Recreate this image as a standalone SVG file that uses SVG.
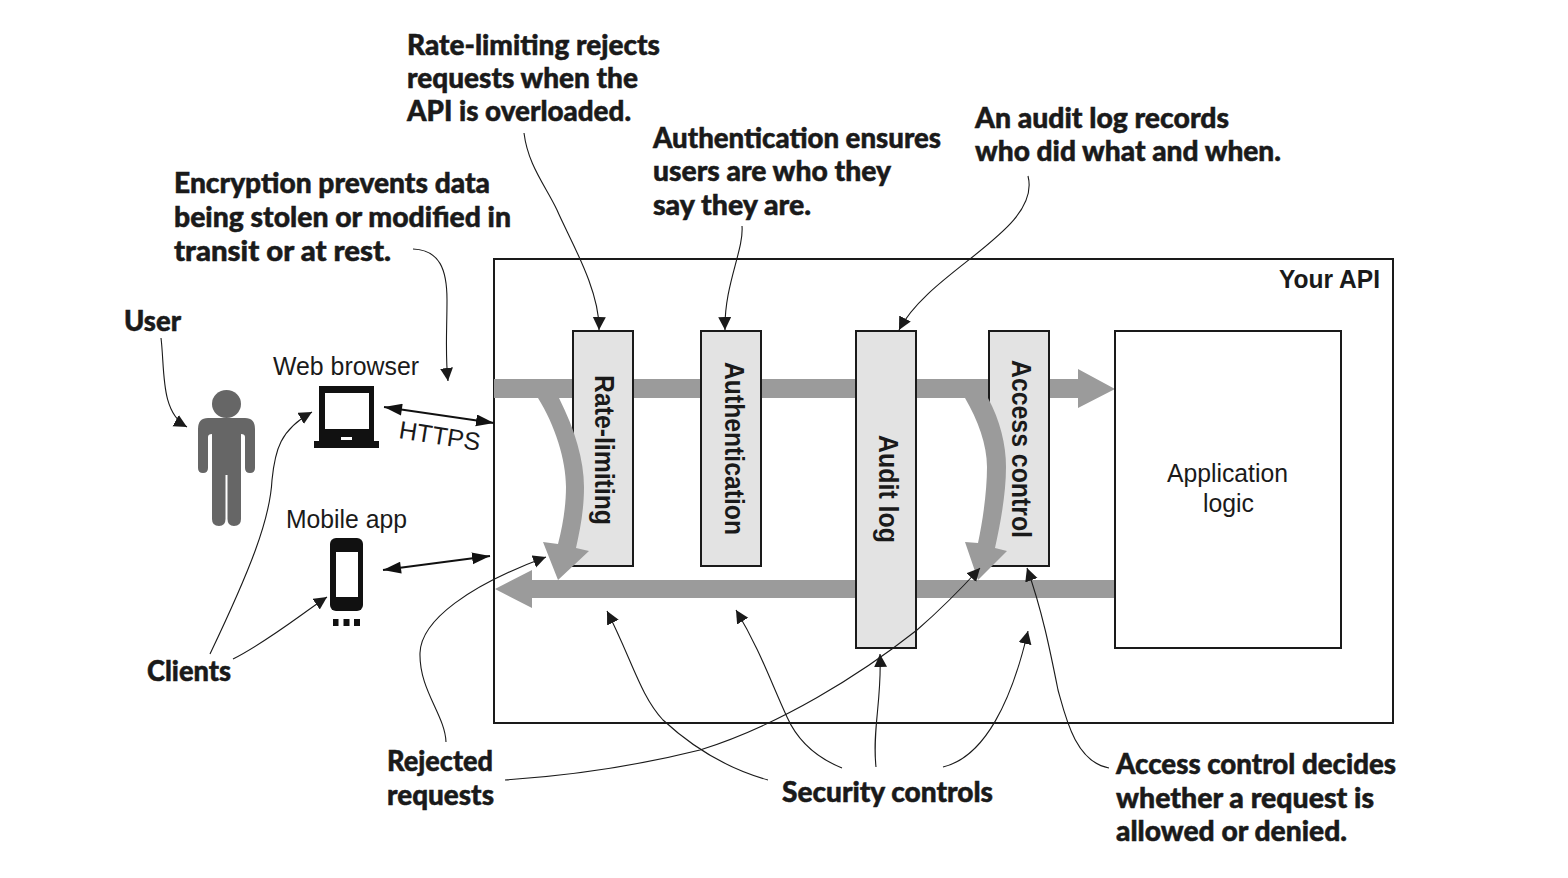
<svg xmlns="http://www.w3.org/2000/svg" width="1568" height="878" viewBox="0 0 1568 878">
<style>
.note{font-family:"Lato","Noto Sans","Liberation Sans",sans-serif;font-weight:900;font-size:27.500px;fill:#1a1a1a;stroke:#1a1a1a;stroke-width:.5}
.lab{font-family:"Liberation Sans",Arial,sans-serif;font-size:25px;fill:#1a1a1a}
.rot{font-family:"Liberation Sans",Arial,sans-serif;font-weight:700;font-size:27px;fill:#1a1a1a}
.api{font-family:"Liberation Sans",Arial,sans-serif;font-weight:700;font-size:25px;fill:#1a1a1a}
.box{fill:#e3e3e3;stroke:#1a1a1a;stroke-width:2}
.wbox{fill:#fff;stroke:#1a1a1a;stroke-width:2}
.band{fill:#9b9b9b}
.lead{fill:none;stroke:#1a1a1a;stroke-width:1.100;marker-end:url(#ah)}
.dbl{fill:none;stroke:#111;stroke-width:2;marker-end:url(#ah2);marker-start:url(#ah2s)}
</style>
<defs>
<marker id="ah" markerUnits="userSpaceOnUse" markerWidth="15" markerHeight="14" refX="13" refY="6.500" orient="auto"><path d="M0,0 L13,6.500 L0,13 Z" fill="#1a1a1a"/></marker>
<marker id="ah2" markerUnits="userSpaceOnUse" markerWidth="20" markerHeight="14" refX="18" refY="6" orient="auto"><path d="M0,0 L18,6 L0,12 Z" fill="#111"/></marker>
<marker id="ah2s" markerUnits="userSpaceOnUse" markerWidth="20" markerHeight="14" refX="0" refY="6" orient="auto"><path d="M18,0 L0,6 L18,12 Z" fill="#111"/></marker>
</defs>
<rect width="1568" height="878" fill="#fff"/>
<g id="your-api"><rect x="494" y="259" width="899" height="464" fill="#fff" stroke="#1a1a1a" stroke-width="2"/>
<text class="api" x="1279" y="288" textLength="101" lengthAdjust="spacingAndGlyphs">Your API</text></g>
<g id="flow-bands">
<path class="band" d="M494,379 H1078 V369 L1115,389 L1078,408 V398 H494 Z"/>
<path class="band" d="M1115,580 H532 V570 L495,589 L532,608 V598 H1115 Z"/>
</g>
<g id="rate-limiting"><rect class="box" x="573" y="331" width="60" height="235"/>
<text class="rot" transform="translate(595,375) rotate(90)" textLength="150" lengthAdjust="spacingAndGlyphs">Rate-limiting</text></g>
<g id="authentication"><rect class="box" x="701" y="331" width="60" height="235"/>
<text class="rot" transform="translate(725,362) rotate(90)" textLength="173" lengthAdjust="spacingAndGlyphs">Authentication</text></g>
<g id="audit-log"><rect class="box" x="856" y="331" width="60" height="317"/>
<text class="rot" transform="translate(879,435) rotate(90)" textLength="108" lengthAdjust="spacingAndGlyphs">Audit log</text></g>
<g id="access-control"><rect class="box" x="989" y="331" width="60" height="235"/>
<text class="rot" transform="translate(1012,360) rotate(90)" textLength="178" lengthAdjust="spacingAndGlyphs">Access control</text></g>
<g id="application-logic"><rect class="wbox" x="1115" y="331" width="226" height="317"/>
<text class="lab" x="1167" y="482" textLength="121" lengthAdjust="spacingAndGlyphs">Application</text>
<text class="lab" x="1203" y="512" textLength="51" lengthAdjust="spacingAndGlyphs">logic</text></g>
<g id="reject-arrows">
<path class="band" d="M538,398 H559 C575,430 584,460 584,487 C584,510 580,530 576,548 L589,551 L558,580 L543,542 L558,544 C563,525 566,505 566,487 C566,460 555,425 538,398 Z"/>
<path class="band" d="M965,398 H988 C1000,420 1006,445 1006,467 C1006,495 1000,525 995,548 L1007,551 L978,580 L965,542 L978,543 C983,520 987,490 987,467 C987,445 978,420 965,398 Z"/>
</g>
<g id="user-icon" fill="#666">
<ellipse cx="226.500" cy="404" rx="14.500" ry="14"/>
<path d="M208,418 H245 Q255,418 255,429 V468 Q255,473 250,473 Q245,473 245,468 V437 Q245,434 241,434 V519 Q241,526 234,526 Q227.500,526 227.500,519 V475 H225.500 V519 Q225.500,526 219,526 Q212,526 212,519 V434 Q208,434 208,437 V468 Q208,473 203,473 Q198,473 198,468 V429 Q198,418 208,418 Z"/>
</g>
<g id="web-browser"><text class="lab" x="273" y="375" textLength="146" lengthAdjust="spacingAndGlyphs">Web browser</text>
<path fill="#111" fill-rule="evenodd" d="M319,386 H374 V441 H379 V448 H314 V441 H319 Z M325,393 V429 H369 V393 Z M341,437 V440 H352 V437 Z"/></g>
<g id="mobile-app"><text class="lab" x="286" y="528" textLength="121" lengthAdjust="spacingAndGlyphs">Mobile app</text>
<rect x="330" y="538" width="33" height="73" rx="6" fill="#111"/><rect x="336" y="552" width="22" height="45" fill="#fff"/>
<path fill="#111" d="M333,619 h5.500 v7 h-5.500 Z M343.500,619 h6 v7 h-6 Z M354,619 h6 v7 h-6 Z"/></g>
<g id="connectors">
<path class="dbl" d="M384,407 L494,423"/>
<path class="dbl" d="M383,570 L490,556"/>
<path class="lead" d="M524,133 C528,165 545,185 557,210 C570,240 600,290 599,330"/>
<path class="lead" d="M742,226 C744,250 724,285 725,330"/>
<path class="lead" d="M1028,176 C1042,230 930,270 899,330"/>
<path class="lead" d="M413,249 C440,250 447,270 447,300 C447,330 445,355 448,381"/>
<path class="lead" d="M161,338 C165,370 160,412 187,427"/>
<path class="lead" d="M210,654 C250,570 270,520 272,480 C275,450 280,430 312,412"/>
<path class="lead" d="M233,659 C270,640 300,615 327,597"/>
<path class="lead" d="M446,742 C445,715 419,690 420,653 C421,620 470,585 546,557"/>
<path class="lead" d="M505,780 C580,775 640,765 700,750 C780,725 860,675 917,630 C940,610 960,590 980,568"/>
<path class="lead" d="M768,780 C725,768 690,745 663,720 C640,695 632,660 607,611"/>
<path class="lead" d="M842,768 C810,755 795,735 787,717 C770,680 760,650 736,610"/>
<path class="lead" d="M876,767 C872,730 882,700 880,654"/>
<path class="lead" d="M943,767 C985,757 1012,700 1028,631"/>
<path class="lead" d="M1109,768 C1075,762 1065,715 1058,690 C1050,650 1042,610 1027,568"/>
</g>
<g id="labels">
<text class="lab" transform="translate(398,438) rotate(9)" textLength="82" lengthAdjust="spacingAndGlyphs">HTTPS</text>
<text class="note" x="407" y="55" textLength="253" lengthAdjust="spacingAndGlyphs">Rate-limiting rejects</text>
<text class="note" x="407" y="88" textLength="231" lengthAdjust="spacingAndGlyphs">requests when the</text>
<text class="note" x="407" y="121" textLength="224" lengthAdjust="spacingAndGlyphs">API is overloaded.</text>
<text class="note" x="653" y="148" textLength="288" lengthAdjust="spacingAndGlyphs">Authentication ensures</text>
<text class="note" x="653" y="181" textLength="238" lengthAdjust="spacingAndGlyphs">users are who they</text>
<text class="note" x="653" y="215" textLength="158" lengthAdjust="spacingAndGlyphs">say they are.</text>
<text class="note" x="975" y="128" textLength="254" lengthAdjust="spacingAndGlyphs">An audit log records</text>
<text class="note" x="975" y="161" textLength="306" lengthAdjust="spacingAndGlyphs">who did what and when.</text>
<text class="note" x="174" y="193" textLength="316" lengthAdjust="spacingAndGlyphs">Encryption prevents data</text>
<text class="note" x="174" y="227" textLength="337" lengthAdjust="spacingAndGlyphs">being stolen or modified in</text>
<text class="note" x="174" y="261" textLength="217" lengthAdjust="spacingAndGlyphs">transit or at rest.</text>
<text class="note" x="124" y="331" textLength="57" lengthAdjust="spacingAndGlyphs">User</text>
<text class="note" x="147" y="681" textLength="84" lengthAdjust="spacingAndGlyphs">Clients</text>
<text class="note" x="387" y="771" textLength="106" lengthAdjust="spacingAndGlyphs">Rejected</text>
<text class="note" x="387" y="805" textLength="107" lengthAdjust="spacingAndGlyphs">requests</text>
<text class="note" x="782" y="802" textLength="211" lengthAdjust="spacingAndGlyphs">Security controls</text>
<text class="note" x="1116" y="774" textLength="280" lengthAdjust="spacingAndGlyphs">Access control decides</text>
<text class="note" x="1116" y="808" textLength="258" lengthAdjust="spacingAndGlyphs">whether a request is</text>
<text class="note" x="1116" y="841" textLength="231" lengthAdjust="spacingAndGlyphs">allowed or denied.</text>
</g>
</svg>
